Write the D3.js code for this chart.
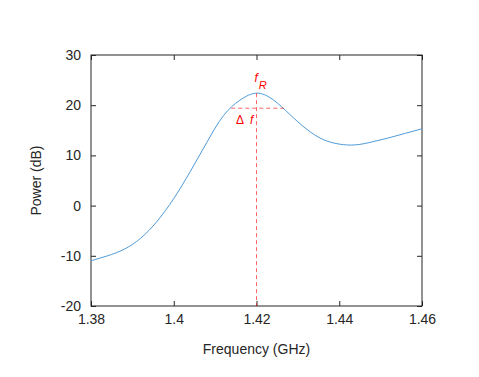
<!doctype html>
<html lang="en">
<head>
    <meta charset="utf-8"/>
    <title>Power spectrum</title>
    <style>
        body { margin: 0; background: #fff; }
        svg { display: block; }
    </style>
</head>
<body>
    <svg id="chart"></svg>
    <script src="https://d3js.org/d3.v7.min.js"></script>
    <script>
        // curve
        const freq = [1.380, 1.384, 1.388, 1.392, 1.396, 1.400, 1.404, 1.408, 1.412, 1.416, 1.420,
                      1.424, 1.428, 1.432, 1.436, 1.440, 1.444, 1.448, 1.452, 1.456, 1.460];
        const power = [-11.0, -10.0, -8.7, -6.5, -3.1, 1.4, 6.8, 12.6, 17.9, 21.0, 22.4,
                       21.1, 18.2, 15.3, 13.2, 12.25, 12.1, 12.7, 13.5, 14.4, 15.3];
        const xTicks = [1.38, 1.4, 1.42, 1.44, 1.46];
        const xTickLabels = ["1.38", "1.4", "1.42", "1.44", "1.46"];
        const yTicks = [-20, -10, 0, 10, 20, 30];
        const yTickLabels = ["-20", "-10", "0", "10", "20", "30"];

        // annotation: resonance peak and width
        const peak = [1.42, 22.4];
        const halfLevel = 19.4;
        const halfEdges = [1.4139, 1.4266];

        const width = 479, height = 377;
        const margin = {top: 55, right: 57, bottom: 71, left: 91};
        const axisColor = "#262626";
        const font = "'Liberation Sans', Arial, Helvetica, sans-serif";

        const svg = d3.select("#chart")
            .attr("width", width)
            .attr("height", height)
            .style("font-family", font);

        const x = d3.scaleLinear().domain([1.38, 1.46]).range([margin.left, width - margin.right]);
        const y = d3.scaleLinear().domain([-20, 30]).range([height - margin.bottom, margin.top]);

        // box
        svg.append("rect")
            .attr("x", x(1.38)).attr("y", y(30))
            .attr("width", x(1.46) - x(1.38)).attr("height", y(-20) - y(30))
            .attr("fill", "none").attr("stroke", axisColor).attr("stroke-width", 1);

        function styleAxis(g, labels) {
            g.select(".domain").remove();
            g.selectAll(".tick line").attr("stroke", axisColor).attr("stroke-width", 1);
            g.selectAll(".tick text").attr("fill", axisColor).style("font-size", "14px").style("font-family", font);
            if (!labels) g.selectAll(".tick text").remove();
        }

        svg.append("g")
            .attr("transform", `translate(0,${y(-20)})`)
            .call(d3.axisBottom(x).tickValues(xTicks).tickSizeInner(-5).tickSizeOuter(0).tickPadding(8)
                .tickFormat((d, i) => xTickLabels[i]))
            .call(g => styleAxis(g, true));
        svg.append("g")
            .attr("transform", `translate(0,${y(30)})`)
            .call(d3.axisTop(x).tickValues(xTicks).tickSizeInner(-5).tickSizeOuter(0))
            .call(g => styleAxis(g, false));
        svg.append("g")
            .attr("transform", `translate(${x(1.38)},0)`)
            .call(d3.axisLeft(y).tickValues(yTicks).tickSizeInner(-5).tickSizeOuter(0).tickPadding(10)
                .tickFormat((d, i) => yTickLabels[i]))
            .call(g => styleAxis(g, true));
        svg.append("g")
            .attr("transform", `translate(${x(1.46)},0)`)
            .call(d3.axisRight(y).tickValues(yTicks).tickSizeInner(-5).tickSizeOuter(0))
            .call(g => styleAxis(g, false));

        // axis titles
        svg.append("text")
            .attr("x", (x(1.38) + x(1.46)) / 2).attr("y", 354)
            .attr("text-anchor", "middle").attr("fill", axisColor).style("font-size", "14px")
            .text("Frequency (GHz)");
        svg.append("text")
            .attr("transform", `translate(41,${(y(-20) + y(30)) / 2}) rotate(-90)`)
            .attr("text-anchor", "middle").attr("fill", axisColor).style("font-size", "14px")
            .text("Power (dB)");

        // curve
        const data = freq.map((f, i) => [f, power[i]]);
        svg.append("path")
            .datum(data)
            .attr("fill", "none")
            .attr("stroke", "#4f9bd9")
            .attr("stroke-width", 1)
            .attr("d", d3.line().x(d => x(d[0])).y(d => y(d[1])).curve(d3.curveNatural));

        // annotation lines
        const red = "#ff0000";
        svg.append("line")
            .attr("x1", x(peak[0])).attr("x2", x(peak[0]))
            .attr("y1", y(peak[1])).attr("y2", y(-20))
            .attr("stroke", red).attr("stroke-opacity", 0.6).attr("stroke-width", 1)
            .attr("stroke-dasharray", "4,3");
        svg.append("line")
            .attr("x1", x(halfEdges[0])).attr("x2", x(halfEdges[1]))
            .attr("y1", y(halfLevel)).attr("y2", y(halfLevel))
            .attr("stroke", red).attr("stroke-opacity", 0.6).attr("stroke-width", 1)
            .attr("stroke-dasharray", "4,3");

        // annotation labels
        const fr = svg.append("text")
            .attr("x", x(peak[0]) - 2).attr("y", 82)
            .attr("fill", red).style("font-size", "12px");
        fr.append("tspan").style("font-style", "italic").text("f");
        fr.append("tspan").attr("dx", 1).attr("dy", 7).style("font-size", "11px").style("font-style", "italic").text("R");

        const df = svg.append("text")
            .attr("x", 236).attr("y", 124)
            .attr("fill", red).style("font-size", "12px");
        df.append("tspan").text("Δ");
        df.append("tspan").attr("dx", 6).style("font-style", "italic").text("f");
    </script>
</body>
</html>
